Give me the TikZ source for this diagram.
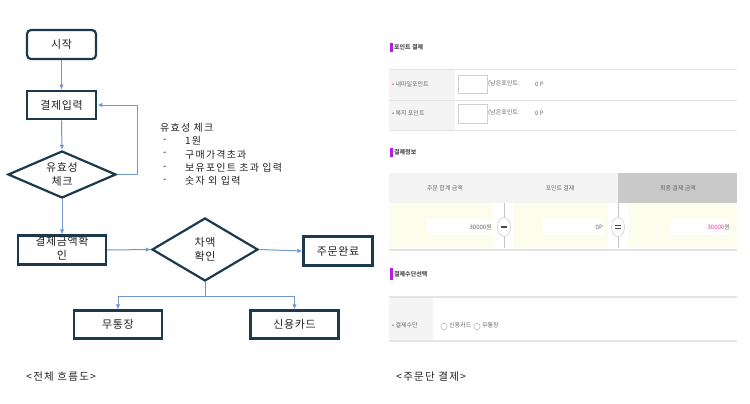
\documentclass[tikz,border=0pt]{standalone}
\usepackage{fontspec}
\setmainfont{Noto Sans CJK KR}
\newfontfamily\widehangul[LetterSpace=12]{Noto Sans CJK KR}
\newfontfamily\boxhangul[LetterSpace=6]{Noto Sans CJK KR}
\usetikzlibrary{shapes.geometric,arrows.meta}
\definecolor{boxnavy}{HTML}{1B3A4E}
\definecolor{flowblue}{HTML}{7097CF}
\definecolor{textdark}{HTML}{222222}
\definecolor{padgray}{HTML}{F4F4F4}
\definecolor{rulegray}{HTML}{E4E4E4}
\definecolor{headgray}{HTML}{C9C9C9}
\definecolor{rowyellow}{HTML}{FDFDEE}
\definecolor{markpurple}{HTML}{B21FE0}
\definecolor{markpink}{HTML}{E0409C}
\definecolor{shotgray}{HTML}{666666}
\begin{document}
\begin{tikzpicture}[x=1pt,y=-1pt,
    procbox/.style={draw=boxnavy,line width=2.2pt,rectangle,inner sep=0pt,
      text=textdark,font=\boxhangul\fontsize{11}{14}\selectfont,align=center},
    startbox/.style={procbox,rounded corners=4pt},
    decbox/.style={procbox,diamond,aspect=2},
    flowline/.style={draw=flowblue,line width=1pt,-{Latex[length=5pt,width=4.5pt]}},
    notetext/.style={font=\widehangul\fontsize{10}{12}\selectfont,text=textdark,anchor=west,inner sep=0pt},
    shottext/.style={font=\fontsize{6}{7}\selectfont,text=shotgray,anchor=west,inner sep=0pt},
    shotcap/.style={font=\fontsize{6}{7}\selectfont\bfseries,text=shotgray!80!black,anchor=west,inner sep=0pt}]
  \useasboundingbox[fill=white] (0,0) rectangle (750,404);
  % flow chart
  \node[startbox,minimum width=69pt,minimum height=29pt] (start) at (61.5,44.5) {시작};
  \node[procbox,line width=2.8pt,minimum width=69pt,minimum height=28pt] (input) at (61.5,105) {결제입력};
  \node[decbox,minimum width=108pt,minimum height=47pt] (check) at (62,174.5) {유효성\\체크};
  \node[procbox,minimum width=88pt,minimum height=29pt] (amount) at (62,250) {};
  \node[align=center,inner sep=0pt,text=textdark,font=\boxhangul\fontsize{11}{14}\selectfont] (amounttxt) at (62,248) {결제금액확\\인};
  \node[decbox,aspect=1.7,minimum width=106pt,minimum height=63pt] (diff) at (205,249.5) {차액\\확인};
  \node[procbox,minimum width=69pt,minimum height=29pt] (done) at (338,251) {주문완료};
  \node[procbox,minimum width=88pt,minimum height=28pt] (bank) at (118,324.5) {무통장};
  \node[procbox,minimum width=88pt,minimum height=28pt] (card) at (294.5,324.5) {신용카드};
  %
  \draw[flowline] (start.south) -- (input.north);
  \draw[flowline] (input.south) -- (check.north);
  \draw[flowline] (check.east) -- ++(20,0) |- (input.east);
  \draw[flowline] (check.south) -- (amount.north);
  \draw[flowline] (amount.east) -- (diff.west);
  \draw[flowline] (diff.east) -- (done.west);
  \draw[flowline] (diff.south) -- ++(0,14) -| (bank.north);
  \draw[flowline] (diff.south) -- ++(0,14) -| (card.north);
  % check list
  \node[notetext] (notehead) at (160,127.5) {유효성 체크};
  \foreach \item [count=\i] in {1원,구매가격초과,보유포인트 초과 입력,숫자 외 입력}{
    \node[notetext] (dash\i) at (163,127.5+13.4*\i) {-};
    \node[notetext] (note\i) at (185,127.5+13.4*\i) {\item};
  }
  \node[notetext,font=\widehangul\fontsize{10.5}{12}\selectfont] (capleft) at (26,377) {<전체 흐름도>};
  % screen shot: point payment
  \fill[markpurple] (390,42.7) rectangle (392.7,51.7);
  \node[shotcap] (pointhead) at (394,47.2) {포인트 결제};
  \fill[padgray] (389,69.5) rectangle (455,130);
  \foreach \y in {69.5,100,130}
    \draw[rulegray,line width=1pt] (389,\y) -- (737,\y);
  \node[shottext] (mile) at (392,84) {\textcolor{markpink}{•} 내마일포인트};
  \node[shottext] (welfare) at (392,113) {\textcolor{markpink}{•} 복지 포인트};
  \draw[rulegray!80!gray,fill=white] (458,75) rectangle (487,93);
  \draw[rulegray!80!gray,fill=white] (458,104) rectangle (487,122.7);
  \node[shottext] (rest1) at (488,84) {(남은포인트:};
  \node[shottext] (rest2) at (488,113) {(남은포인트:};
  \node[shottext] (pt1) at (535,84.5) {0 P};
  \node[shottext] (pt2) at (535,113.5) {0 P};
  % screen shot: payment info
  \fill[markpurple] (390,148) rectangle (392.7,156.7);
  \node[shotcap] (payhead) at (394,152.3) {결제정보};
  \fill[padgray] (389,173) rectangle (618,203);
  \fill[headgray] (618,173) rectangle (737,203);
  \node[shottext,anchor=center] (colsum) at (445,188.5) {주문 합계 금액};
  \node[shottext,anchor=center] (colpoint) at (560,188.5) {포인트 결제};
  \node[shottext,anchor=center] (colfinal) at (678,188.5) {최종 결제 금액};
  \fill[rowyellow] (389,203) rectangle (737,248);
  \fill[white] (493,203) rectangle (513,248);
  \fill[white] (608,203) rectangle (628,248);
  \draw[rulegray!70!gray] (504,203) -- (504,248);
  \draw[rulegray!70!gray] (618,203) -- (618,248);
  \fill[white] (427,219) rectangle (492,235);
  \fill[white] (543,219) rectangle (603,235);
  \fill[white] (670,219) rectangle (730,235);
  \node[shottext,anchor=east] (sumval) at (492,227) {30000원};
  \node[shottext,anchor=east] (pointval) at (603,227) {0P};
  \node[shottext,anchor=east] (finalval) at (730,227) {\textcolor{markpink}{30000}원};
  \draw[rulegray!60!gray,fill=white] (504,227) ellipse [x radius=6.5,y radius=9.5];
  \fill[shotgray!70!black] (501,226.2) rectangle (507,228);
  \draw[rulegray!60!gray,fill=white] (618,227) ellipse [x radius=6.5,y radius=9.5];
  \fill[shotgray!70!black] (615,224.6) rectangle (621,226.2);
  \fill[shotgray!70!black] (615,227.8) rectangle (621,229.4);
  \draw[rulegray,line width=1.5pt] (389,250) -- (737,250);
  % screen shot: payment method
  \fill[markpurple] (390,268) rectangle (392.7,280);
  \node[shotcap] (methodhead) at (394,274) {결제수단선택};
  \fill[padgray] (389,297) rectangle (433,341);
  \draw[rulegray,line width=1.5pt] (389,297) -- (737,297);
  \draw[rulegray,line width=1.5pt] (389,341) -- (737,341);
  \node[shottext] (method) at (392,325) {\textcolor{markpink}{•} 결제수단};
  \draw[shotgray!60] (444,326.5) circle (3.2);
  \node[shottext] (optcard) at (449,325) {신용카드};
  \draw[shotgray!60] (477,326.5) circle (3.2);
  \node[shottext] (optbank) at (482,325) {무통장};
  \node[notetext,font=\widehangul\fontsize{10.5}{12}\selectfont] (capright) at (396,377) {<주문단 결제>};
\end{tikzpicture}
\end{document}
